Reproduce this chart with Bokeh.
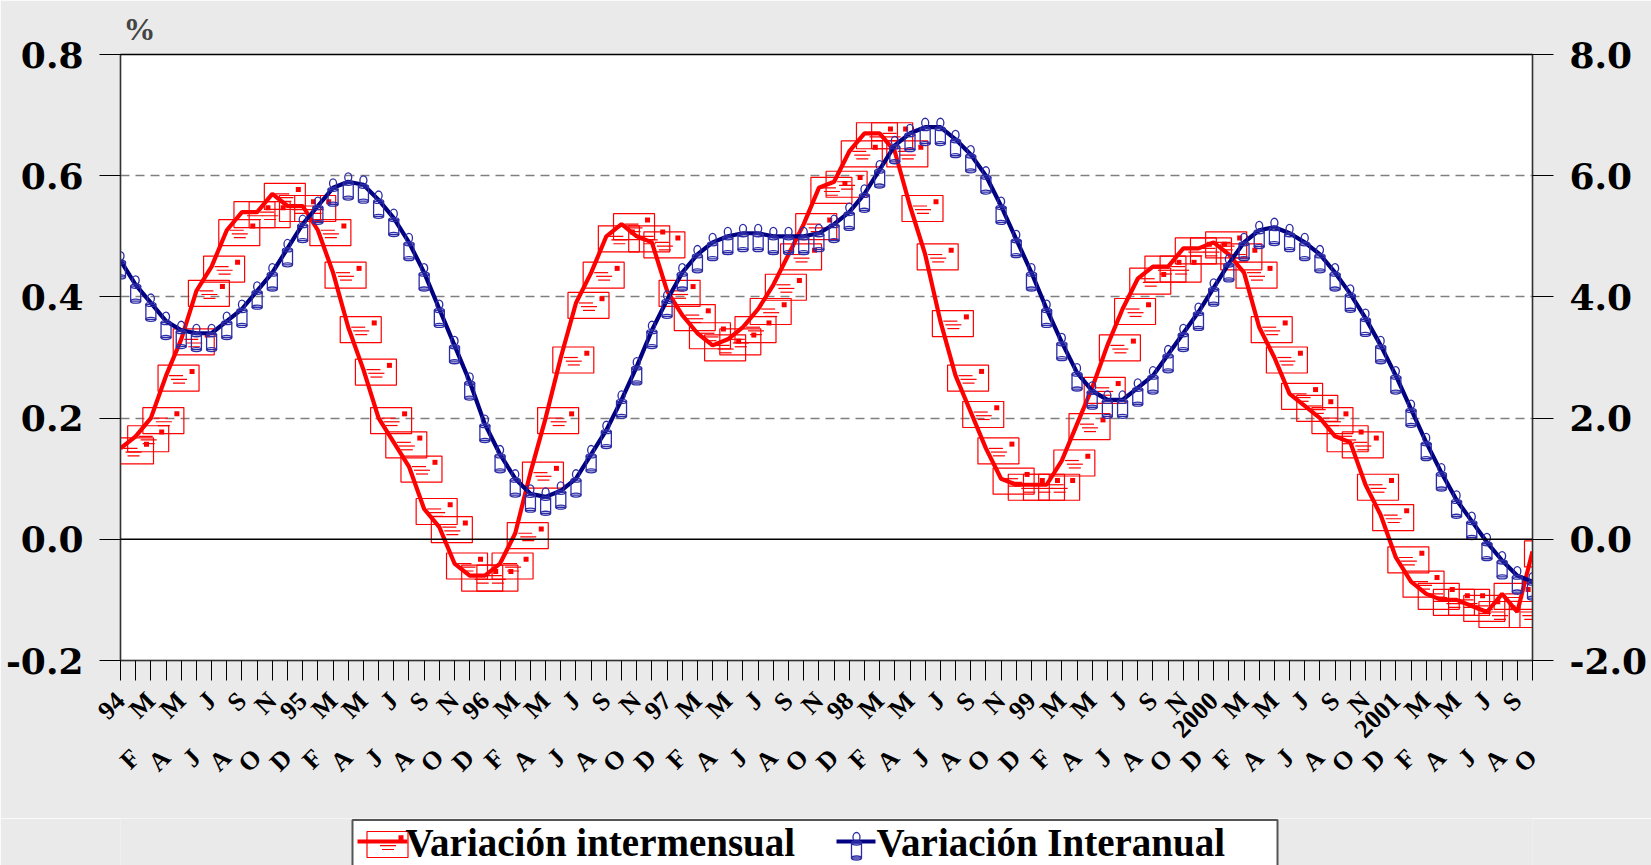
import math
from bokeh.plotting import figure
from bokeh.layouts import column
from bokeh.core.properties import value
from bokeh.models import (Range1d, LinearAxis, FixedTicker, Span, Title, Grid, PrintfTickFormatter)
from bokeh.embed import file_html
from bokeh.resources import INLINE

# ---------------- data ----------------
year_labels = ["94", "95", "96", "97", "98", "99", "2000", "2001"]
month_letters = ["", "F", "M", "A", "M", "J", "J", "A", "S", "O", "N", "D"]
series_names = ["Variación intermensual", "Variación Interanual"]
unit_label = "%"
n_months = 94  # Jan 1994 .. Oct 2001

intermensual = [0.15, 0.17, 0.20, 0.27, 0.33, 0.41, 0.45, 0.51, 0.54, 0.54, 0.57, 0.55,
                0.55, 0.51, 0.44, 0.35, 0.28, 0.20, 0.16, 0.12, 0.05, 0.02, -0.04, -0.06,
                -0.06, -0.04, 0.01, 0.11, 0.20, 0.30, 0.39, 0.44, 0.50, 0.52, 0.50, 0.49,
                0.41, 0.37, 0.34, 0.32, 0.33, 0.35, 0.38, 0.42, 0.47, 0.52, 0.58, 0.59,
                0.64, 0.67, 0.67, 0.64, 0.55, 0.47, 0.36, 0.27, 0.21, 0.15, 0.10, 0.09,
                0.09, 0.09, 0.13, 0.19, 0.25, 0.32, 0.38, 0.43, 0.45, 0.45, 0.48, 0.48,
                0.49, 0.47, 0.44, 0.35, 0.30, 0.24, 0.22, 0.20, 0.17, 0.16, 0.09, 0.04,
                -0.03, -0.07, -0.09, -0.10, -0.10, -0.11, -0.12, -0.09, -0.12, -0.02]

interanual = [4.6, 4.2, 3.9, 3.6, 3.45, 3.4, 3.4, 3.6, 3.8, 4.1, 4.4, 4.8,
              5.2, 5.5, 5.8, 5.9, 5.85, 5.6, 5.3, 4.9, 4.4, 3.8, 3.2, 2.6,
              1.9, 1.4, 1.0, 0.75, 0.7, 0.8, 1.0, 1.4, 1.8, 2.3, 2.85, 3.45,
              3.95, 4.4, 4.7, 4.9, 5.0, 5.05, 5.05, 5.0, 5.0, 5.0, 5.05, 5.2,
              5.4, 5.7, 6.1, 6.5, 6.7, 6.8, 6.8, 6.6, 6.35, 6.0, 5.5, 4.95,
              4.4, 3.8, 3.25, 2.75, 2.45, 2.3, 2.3, 2.5, 2.7, 3.05, 3.4, 3.75,
              4.15, 4.55, 4.9, 5.1, 5.15, 5.05, 4.9, 4.7, 4.4, 4.05, 3.65, 3.2,
              2.7, 2.15, 1.6, 1.1, 0.65, 0.3, -0.05, -0.35, -0.6, -0.7]

left_ticks = [-0.2, 0.0, 0.2, 0.4, 0.6, 0.8]
right_ticks = [-2.0, 0.0, 2.0, 4.0, 6.0, 8.0]
grid_ticks = [0.2, 0.4, 0.6]

# tick labels per month
tick_labels = []
for i in range(n_months):
    m = i % 12
    tick_labels.append(year_labels[i // 12] if m == 0 else month_letters[m])

x = list(range(n_months))

# ---------------- geometry / style ----------------
FRAME_W, FRAME_H = 1412, 611
BORDER_L, BORDER_R = 120, 119
MAIN_H, LG_H = 818, 47
FONT = "Liberation Serif"
NUM_FONT = "DejaVu Serif"
RED = "#FF0000"
NAVY = "#000080"
CANDLE = "#2C2CA6"
BG = "#EAEAEA"

# ---------------- main figure ----------------
p = figure(width=1651, height=MAIN_H, output_backend="svg", toolbar_location=None,
           x_range=Range1d(0, n_months - 1), y_range=Range1d(left_ticks[0], left_ticks[-1]),
           x_axis_location=None, y_axis_location=None,
           min_border_left=BORDER_L, min_border_right=BORDER_R, min_border_top=49, min_border_bottom=158,
           background_fill_color="white", border_fill_color=BG,
           outline_line_color="black", outline_line_width=1.5)
for g in p.select(type=Grid):
    g.visible = False
p.extra_y_ranges = {"right": Range1d(right_ticks[0], right_ticks[-1])}

p.title = Title(text=unit_label, text_font=FONT, text_font_style="bold", text_font_size="32px",
                text_line_height=0.8, align="left", offset=3, standoff=16)

# grid & zero line
p.add_layout(Grid(dimension=1, ticker=FixedTicker(ticks=grid_ticks), grid_line_color="#7f7f7f",
                  grid_line_dash="9 6", grid_line_width=1.4))
p.add_layout(Span(location=0, dimension="width", line_color="black", line_width=1.6))

def style_axis(ax, size, font=FONT):
    ax.major_label_text_font = font
    ax.major_label_text_font_style = "bold"
    ax.major_label_text_font_size = size
    ax.major_label_text_color = "black"
    ax.minor_tick_out = 0
    ax.minor_tick_in = 0
    ax.major_tick_in = 0

left_ax = LinearAxis(ticker=FixedTicker(ticks=left_ticks), formatter=PrintfTickFormatter(format="%.1f"),
                     major_tick_out=21, major_label_standoff=16, axis_line_color="#333333")
style_axis(left_ax, "36px", NUM_FONT)
p.add_layout(left_ax, "left")

right_ax = LinearAxis(y_range_name="right", ticker=FixedTicker(ticks=right_ticks),
                      formatter=PrintfTickFormatter(format="%.1f"),
                      major_tick_out=21, major_label_standoff=16, axis_line_color="#333333")
style_axis(right_ax, "36px", NUM_FONT)
p.add_layout(right_ax, "right")

row1 = {i: (tick_labels[i] if i % 2 == 0 else "") for i in x}
row2 = {i: (tick_labels[i] if i % 2 == 1 else "") for i in x}

x_ax1 = LinearAxis(ticker=FixedTicker(ticks=x), major_label_overrides=row1,
                   major_label_orientation=math.pi / 4, major_tick_out=20,
                   major_label_standoff=16, axis_line_color="#333333")
style_axis(x_ax1, "26px")
p.add_layout(x_ax1, "below")

x_ax2 = LinearAxis(ticker=FixedTicker(ticks=x), major_label_overrides=row2,
                   major_label_orientation=math.pi / 4, major_tick_out=0,
                   major_label_standoff=-3, axis_line_color=None, major_tick_line_color=None)
style_axis(x_ax2, "26px")
p.add_layout(x_ax2, "below")

# ---------------- series ----------------
PX_X = (n_months - 1) / FRAME_W
PX_Y = (left_ticks[-1] - left_ticks[0]) / FRAME_H
PX_YR = (right_ticks[-1] - right_ticks[0]) / FRAME_H

p.line(x, intermensual, line_color=RED, line_width=4.2)

# envelope markers (picture markers, offset to the lower right)
ENV_DX, ENV_DY = 12.5, 2.5
ENV_LINES = [(-2.5, -9.5, 4.5), (1.2, -7.5, 8.5), (5.0, -5.5, 6.5)]
p.rect([xi + ENV_DX * PX_X for xi in x], [v - ENV_DY * PX_Y for v in intermensual],
       width=41, height=26, width_units="screen", height_units="screen",
       fill_color=None, line_color=RED, line_width=1.2)
p.scatter([xi + (ENV_DX + 13.5) * PX_X for xi in x], [v - (ENV_DY - 6.8) * PX_Y for v in intermensual],
          marker="square", size=5, fill_color=RED, line_color=None)
for dys, a0, a1 in ENV_LINES:
    p.segment([xi + (ENV_DX + a0) * PX_X for xi in x], [v - (ENV_DY + dys) * PX_Y for v in intermensual],
              [xi + (ENV_DX + a1) * PX_X for xi in x], [v - (ENV_DY + dys) * PX_Y for v in intermensual],
              line_color=RED, line_width=1.2)

p.line(x, interanual, line_color=NAVY, line_width=4.2, y_range_name="right")

# candle markers
def candle(fig, xs, ys, px, **kw):
    fig.rect(xs, [v - 9 * px for v in ys], width=10, height=15, width_units="screen",
             height_units="screen", fill_color=None, line_color=CANDLE, line_width=1.3, **kw)
    fig.ellipse(xs, [v - 1.5 * px for v in ys], width=10, height=4, width_units="screen",
                height_units="screen", fill_color=None, line_color=CANDLE, line_width=1.3, **kw)
    fig.ellipse(xs, [v - 16.5 * px for v in ys], width=10, height=4, width_units="screen",
                height_units="screen", fill_color=None, line_color=CANDLE, line_width=1.3, **kw)
    fig.ellipse(xs, [v + 4.5 * px for v in ys], width=7, height=9, width_units="screen",
                height_units="screen", fill_color=None, line_color=CANDLE, line_width=1.3, **kw)

candle(p, x, interanual, PX_YR, y_range_name="right")

# ---------------- legend strip (box cut by the bottom edge) ----------------
lg = figure(width=1651, height=LG_H, output_backend="svg", toolbar_location=None,
            x_range=Range1d(0, FRAME_W), y_range=Range1d(0, LG_H),
            x_axis_location=None, y_axis_location=None,
            min_border_left=BORDER_L, min_border_right=BORDER_R, min_border_top=0, min_border_bottom=0,
            background_fill_color=BG, border_fill_color=BG, outline_line_color=None)
for g in lg.select(type=Grid):
    g.visible = False

box_l, box_r = 232, 1157
lg.quad(left=[box_l], right=[box_r], bottom=[-10], top=[LG_H - 1.5], fill_color="white",
        line_color="#555555", line_width=2)

# item 1: red line + envelope
lg.line([box_l + 5, box_l + 55], [24, 24], line_color=RED, line_width=4.2)
ecx, ecy = box_l + 35, 21
lg.rect([ecx], [ecy], width=41, height=26, width_units="screen", height_units="screen",
        fill_color=None, line_color=RED, line_width=1.2)
lg.scatter([ecx + 13.5], [ecy + 6.8], marker="square", size=5, fill_color=RED, line_color=None)
for dys, a0, a1 in ENV_LINES:
    lg.segment([ecx + a0], [ecy - dys], [ecx + a1], [ecy - dys], line_color=RED, line_width=1.2)

# item 2: navy line + candle
lg.line([box_l + 484, box_l + 523], [24, 24], line_color=NAVY, line_width=4.2)
candle(lg, [box_l + 504], [24], 1.0)

lg.text(x=[box_l + 53, box_l + 524], y=[23, 23], text=series_names, text_font=value(FONT),
        text_font_style="bold", text_font_size="39px", text_baseline="middle",
        text_align="left", text_color="black")

layout = column(p, lg, spacing=0)
open("out.html", "w").write(file_html(layout, INLINE))
